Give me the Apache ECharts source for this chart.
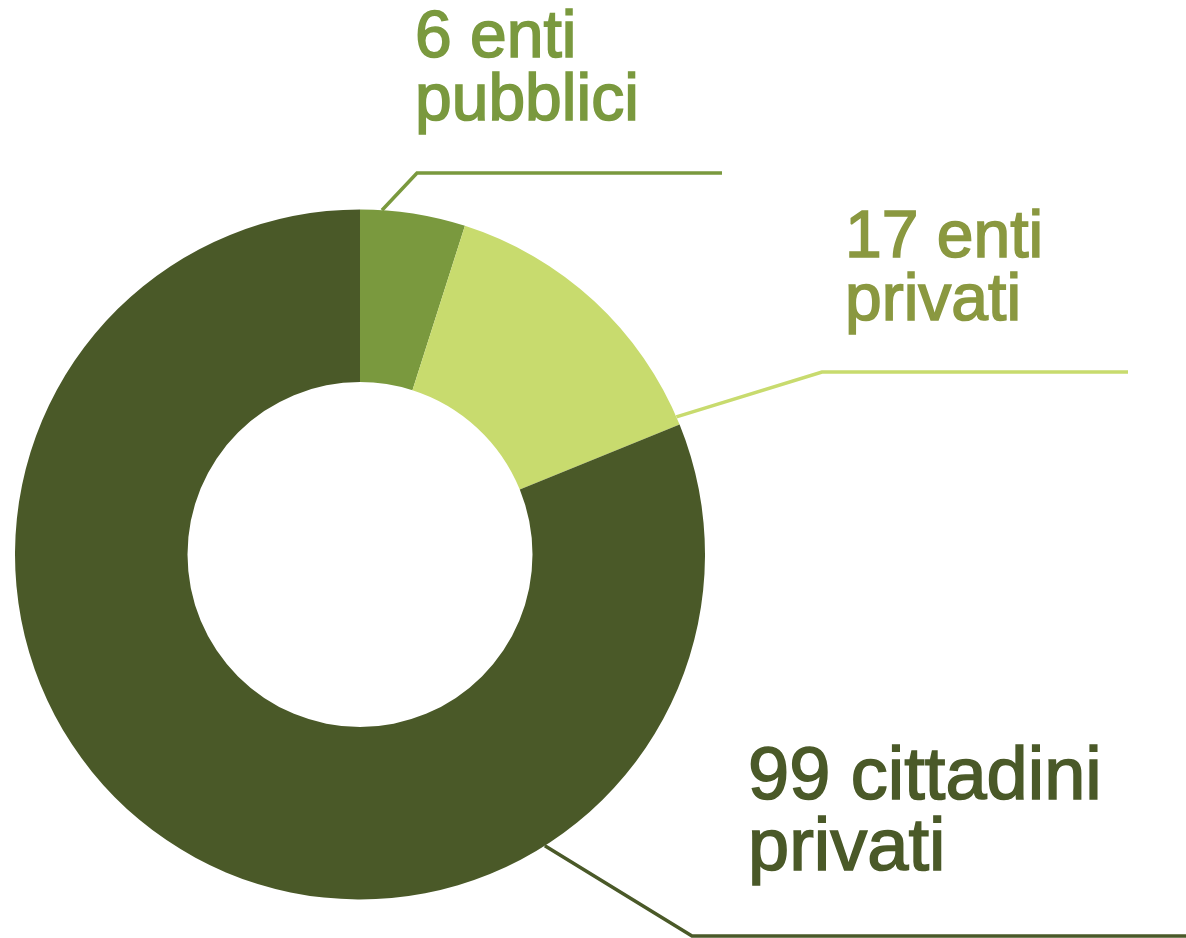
<!DOCTYPE html>
<html>
<head>
<meta charset="utf-8">
<script src="https://cdn.jsdelivr.net/npm/echarts@6/dist/echarts.min.js"></script>
<style>
  html, body { margin: 0; padding: 0; background: #fff; }
  #chart { width: 1186px; height: 938px; }
</style>
</head>
<body>
<div id="chart"></div>
<script>
// dati
var categories = ["enti pubblici", "enti privati", "cittadini privati"];
var values = [6, 17, 99];

// stile
var sliceColors = ["#7A993E", "#C8DB6E", "#4A5928"];
var labelColors = ["#7A993E", "#8A9840", "#4A5928"];
var labelSizes = [66, 66, 74];
var labelLineHeights = [63, 63, 71];

// posizione etichette (angolo sul bordo esterno, gomito, fine linea, testo)
var center = [360, 554.5];
var outerR = 345;
var labelGeo = [
  { angle: 3.65, bend: [417, 173], endX: 722, text: [415, 7] },
  { angle: 66.5, bend: [822, 372], endX: 1128, text: [845, 207] },
  { angle: 147.6, bend: [692, 936], endX: 1190, text: [748, 743] }
];

var chart = echarts.init(document.getElementById("chart"));

var data = categories.map(function (name, i) {
  return {
    name: name,
    value: values[i],
    itemStyle: { color: sliceColors[i] },
    label: {
      color: labelColors[i],
      textBorderColor: labelColors[i],
      textBorderWidth: 1.6,
      fontSize: labelSizes[i],
      lineHeight: labelLineHeights[i]
    },
    labelLine: { lineStyle: { color: sliceColors[i], width: 3.5 } }
  };
});

var option = {
  animation: false,
  backgroundColor: "#ffffff",
  series: [
    {
      type: "pie",
      center: center,
      radius: [172.5, outerR],
      startAngle: 90,
      clockwise: true,
      avoidLabelOverlap: false,
      itemStyle: { borderWidth: 0 },
      emphasis: { disabled: true },
      label: {
        show: true,
        position: "outside",
        fontFamily: "Liberation Sans",
        formatter: function (p) {
          return p.value + " " + p.name.replace(" ", "\n");
        }
      },
      labelLine: {
        show: true,
        length: 20,
        length2: 20,
        lineStyle: { width: 3.5 }
      },
      labelLayout: function (params) {
        var g = labelGeo[params.dataIndex];
        var a = (g.angle * Math.PI) / 180;
        var start = [center[0] + outerR * Math.sin(a), center[1] - outerR * Math.cos(a)];
        return {
          x: g.text[0],
          y: g.text[1],
          align: "left",
          verticalAlign: "top",
          labelLinePoints: [start, g.bend, [g.endX, g.bend[1]]]
        };
      },
      data: data
    }
  ]
};

chart.setOption(option);
</script>
</body>
</html>
